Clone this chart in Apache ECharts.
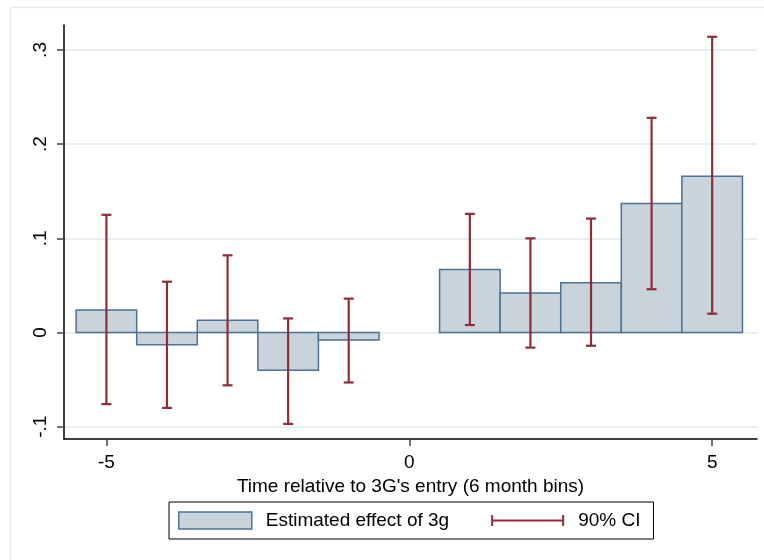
<!DOCTYPE html>
<html>
<head>
<meta charset="utf-8">
<script src="https://cdn.jsdelivr.net/npm/echarts@6/dist/echarts.min.js"></script>
<style>
  html, body { margin: 0; padding: 0; background: #fff; }
  #chart { width: 764px; height: 560px; }
</style>
</head>
<body>
<div id="chart"></div>
<script>
// time bins relative to 3G entry
const periods = [-5, -4, -3, -2, -1, 1, 2, 3, 4, 5];
// point estimates
const effect = [0.024, -0.013, 0.013, -0.040, -0.008, 0.067, 0.042, 0.053, 0.137, 0.166];
// 90% confidence interval
const ciLow  = [-0.076, -0.080, -0.056, -0.097, -0.053, 0.008, -0.016, -0.014, 0.046, 0.020];
const ciHigh = [0.125, 0.054, 0.082, 0.015, 0.036, 0.126, 0.100, 0.121, 0.228, 0.314];
const xTicks = [-5, 0, 5];
const yTicks = [-0.1, 0, 0.1, 0.2, 0.3];
const yTickLabels = ['-.1', '0', '.1', '.2', '.3'];

const barFill = '#c9d3dc';
const barLine = '#4e7295';
const ciColor = '#8f2c38';
const font = 'Liberation Sans, Arial, sans-serif';

const chart = echarts.init(document.getElementById('chart'));

const barData = periods.map((p, i) => [p, effect[i]]);
const ciData = periods.map((p, i) => [p, ciLow[i], ciHigh[i]]);

let option = {
  backgroundColor: '#fff',
  animation: false,
  textStyle: { fontFamily: font },
  graphic: [{
    type: 'rect',
    left: 8, top: 5,
    shape: { width: 800, height: 600 },
    style: { fill: 'none', stroke: '#e4ecf1', lineWidth: 1.5 },
    z: -10
  }],
  grid: { left: 64, right: 7, top: 25, bottom: 121 },
  xAxis: {
    type: 'value',
    min: -5.7,
    max: 5.74,
    name: "Time relative to 3G's entry (6 month bins)",
    nameLocation: 'middle',
    nameGap: 33,
    nameTextStyle: { fontSize: 19, color: '#000', fontFamily: font },
    axisLine: { show: true, onZero: false, lineStyle: { color: '#000', width: 1.5 } },
    axisTick: { show: true, length: 7, customValues: xTicks, lineStyle: { color: '#444', width: 1.5 } },
    axisLabel: { customValues: xTicks, fontSize: 19, color: '#000', margin: 14, fontFamily: font },
    splitLine: { show: false }
  },
  yAxis: {
    type: 'value',
    min: -0.113,
    max: 0.3265,
    axisLine: { show: true, onZero: false, lineStyle: { color: '#000', width: 1.5 } },
    axisTick: { show: true, length: 7, customValues: yTicks, lineStyle: { color: '#444', width: 1.5 } },
    axisLabel: {
      customValues: yTicks,
      rotate: 90,
      fontSize: 19,
      color: '#000',
      margin: 14,
      fontFamily: font,
      formatter: v => {
        const i = yTicks.findIndex(t => Math.abs(t - v) < 1e-9);
        return i >= 0 ? yTickLabels[i] : '';
      }
    },
    splitLine: { show: true, lineStyle: { color: '#e6eef2', width: 2 } }
  },
  legend: {
    left: 169,
    top: 502,
    padding: [9, 13, 9, 9],
    borderColor: '#000',
    borderWidth: 1,
    itemWidth: 73,
    itemHeight: 17,
    itemGap: 42,
    textStyle: { fontSize: 19, color: '#000', fontFamily: font, padding: [0, 0, 0, 9] },
    data: [
      { name: 'Estimated effect of 3g', icon: 'rect',
        itemStyle: { color: barFill, borderColor: barLine, borderWidth: 1.5 } },
      { name: '90% CI', icon: 'path://M0,3H2V7.5H71V3H73V14H71V9.5H2V14H0Z',
        itemStyle: { color: ciColor, borderWidth: 0 } }
    ]
  },
  series: [
    {
      name: 'Estimated effect of 3g',
      type: 'custom',
      data: barData,
      itemStyle: { color: barFill, borderColor: barLine },
      renderItem(params, api) {
        const x = api.value(0), v = api.value(1);
        const a = api.coord([x - 0.5, 0]);
        const b = api.coord([x + 0.5, v]);
        return {
          type: 'rect',
          shape: { x: a[0], y: Math.min(a[1], b[1]), width: b[0] - a[0], height: Math.abs(b[1] - a[1]) },
          style: { fill: barFill, stroke: barLine, lineWidth: 1.5 }
        };
      }
    },
    {
      name: '90% CI',
      type: 'custom',
      data: ciData,
      itemStyle: { color: ciColor },
      z: 5,
      renderItem(params, api) {
        const x = api.value(0);
        const lo = api.coord([x, api.value(1)]);
        const hi = api.coord([x, api.value(2)]);
        const cap = 5;
        const st = { stroke: ciColor, lineWidth: 2.2 };
        return {
          type: 'group',
          children: [
            { type: 'line', shape: { x1: lo[0], y1: lo[1], x2: hi[0], y2: hi[1] }, style: st },
            { type: 'line', shape: { x1: lo[0] - cap, y1: lo[1], x2: lo[0] + cap, y2: lo[1] }, style: st },
            { type: 'line', shape: { x1: hi[0] - cap, y1: hi[1], x2: hi[0] + cap, y2: hi[1] }, style: st }
          ]
        };
      }
    }
  ]
};

chart.setOption(option);
</script>
</body>
</html>
